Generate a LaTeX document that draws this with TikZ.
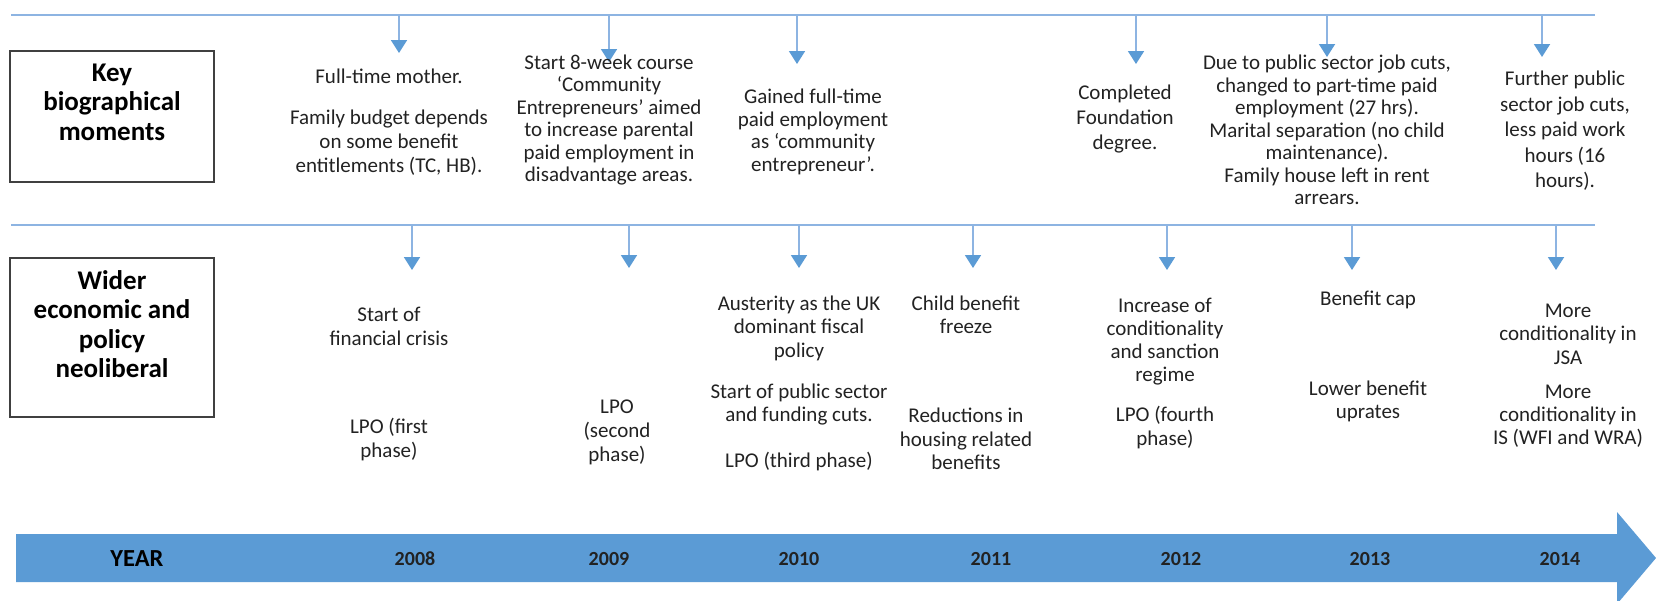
\documentclass[tikz,border=0pt]{standalone}
\usepackage{fontspec}
\setmainfont{Carlito}
\usetikzlibrary{arrows.meta}
\definecolor{lineblue}{HTML}{8DB4E2}
\definecolor{arrblue}{HTML}{5B9BD5}
\definecolor{bandblue}{HTML}{5B9BD5}
\definecolor{txt}{HTML}{222222}
\definecolor{boxgray}{HTML}{404040}
\tikzset{
  tline/.style={draw=lineblue, line width=2pt},
  darr/.style={draw=lineblue, line width=1.8pt, -{Triangle[width=16pt,length=13pt,fill=arrblue,color=arrblue]}},
  body/.style={font=\fontsize{21}{22.5}\selectfont, align=center, inner sep=0pt, text=txt},
  hd/.style={font=\fontsize{27}{29.5}\selectfont\bfseries, align=center, inner sep=0pt, text=black},
  labbox/.style={draw=boxgray, line width=2pt, minimum width=204pt, minimum height=#1, inner sep=0pt},
  yr/.style={font=\fontsize{20}{22}\selectfont\bfseries, inner sep=0pt, text=txt},
}
\begin{document}
\begin{tikzpicture}[x=1pt,y=-1pt]
\useasboundingbox (0,0) rectangle (1656,600);
\fill[white] (0,0) rectangle (1656,600);
% year band
\begin{scope}
\clip (0,0) rectangle (1656,600);
\fill[bandblue] (16,534) -- (1617,534) -- (1617,512) -- (1656,558) -- (1617,604) -- (1617,582) -- (16,582) -- cycle;
\end{scope}
\node[yr, font=\fontsize{24.5}{26}\selectfont\bfseries, text=black] (year) at (137,559) {YEAR};
\node[yr] (y2008) at (415,559) {2008};
\node[yr] (y2009) at (609,559) {2009};
\node[yr] (y2010) at (799,559) {2010};
\node[yr] (y2011) at (991,559) {2011};
\node[yr] (y2012) at (1181,559) {2012};
\node[yr] (y2013) at (1370,559) {2013};
\node[yr] (y2014) at (1560,559) {2014};
% horizontal lines
\coordinate (tlA) at (11,15);
\coordinate (tlB) at (1595,15);
\coordinate (mlA) at (11,225);
\coordinate (mlB) at (1595,225);
\draw[tline] (tlA) -- (tlB);
\draw[tline] (mlA) -- (mlB);
% label boxes
\node[labbox=131pt] (box1) at (112,116.5) {};
\node[hd] (kbm) at (112,102) {Key\\biographical\\moments};
\node[labbox=159pt] (box2) at (112,337.5) {};
\node[hd] (wep) at (112,324) {Wider\\economic and\\policy\\neoliberal};
% top arrows
\foreach \i/\x/\t in {1/399/53, 2/609/62, 3/797/64, 4/1136/64, 5/1327/57, 6/1542/57}{
  \coordinate (ts\i) at (\x,15);
  \coordinate (te\i) at (\x,\t);
  \draw[darr] (ts\i) -- (te\i);
}
% bottom arrows
\foreach \i/\x/\t in {1/412/270, 2/629/268, 3/799/268, 4/973/268, 5/1167/270, 6/1352/270, 7/1556/270}{
  \coordinate (bs\i) at (\x,225);
  \coordinate (be\i) at (\x,\t);
  \draw[darr] (bs\i) -- (be\i);
}
% top row texts
\node[body] (t1a) at (389,76) {Full-time mother.};
\node[body, font=\fontsize{21}{24}\selectfont] (t1b) at (389,143) {Family budget depends\\on some benefit\\entitlements (TC, HB).};
\node[body] (t2) at (609,120) {Start 8-week course\\‘Community\\Entrepreneurs’ aimed\\to increase parental\\paid employment in\\disadvantage areas.};
\node[body] (t3) at (813,132) {Gained full-time\\paid employment\\as ‘community\\entrepreneur’.};
\node[body, font=\fontsize{21}{25}\selectfont] (t4) at (1125,119) {Completed\\Foundation\\degree.};
\node[body] (t5) at (1327,130) {Due to public sector job cuts,\\changed to part-time paid\\employment (27 hrs).\\Marital separation (no child\\maintenance).\\Family house left in rent\\arrears.};
\node[body, font=\fontsize{21}{25.5}\selectfont] (t6) at (1565,131) {Further public\\sector job cuts,\\less paid work\\hours (16\\hours).};
% bottom row texts
\node[body, font=\fontsize{21}{24}\selectfont] (b1a) at (389,326) {Start of\\financial crisis};
\node[body, font=\fontsize{21}{24}\selectfont] (b1b) at (389,440) {LPO (first\\phase)};
\node[body, font=\fontsize{21}{24}\selectfont] (b2) at (617,432) {LPO\\(second\\phase)};
\node[body, font=\fontsize{21}{23.5}\selectfont] (b3a) at (799,328) {Austerity as the UK\\dominant fiscal\\policy};
\node[body, font=\fontsize{21}{23.5}\selectfont] (b3b) at (799,404.5) {Start of public sector\\and funding cuts.};
\node[body] (b3c) at (799,461.5) {LPO (third phase)};
\node[body, font=\fontsize{21}{23.5}\selectfont] (b4a) at (966,315) {Child benefit\\freeze};
\node[body, font=\fontsize{21}{23.5}\selectfont] (b4b) at (966,439) {Reductions in\\housing related\\benefits};
\node[body, font=\fontsize{21}{23}\selectfont] (b5a) at (1165,342) {Increase of\\conditionality\\and sanction\\regime};
\node[body, font=\fontsize{21}{24}\selectfont] (b5b) at (1165,428) {LPO (fourth\\phase)};
\node[body] (b6a) at (1368,300) {Benefit cap};
\node[body, font=\fontsize{21}{23}\selectfont] (b6b) at (1368,401) {Lower benefit\\uprates};
\node[body, font=\fontsize{21}{23.5}\selectfont] (b7a) at (1568,334) {More\\conditionality in\\JSA};
\node[body, font=\fontsize{21}{23}\selectfont] (b7b) at (1568,416) {More\\conditionality in\\IS (WFI and WRA)};
\end{tikzpicture}
\end{document}
